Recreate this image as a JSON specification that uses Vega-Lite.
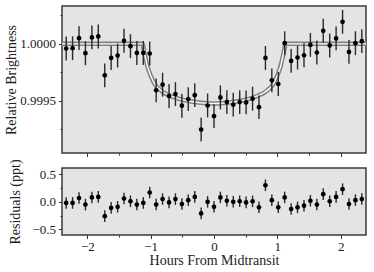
{
  "$schema": "https://vega.github.io/schema/vega-lite/v6.json",
  "padding": {"left": 3, "top": 5, "right": 6, "bottom": 5},
  "config": {
    "font": "Liberation Serif, serif",
    "view": {"fill": "#e4e4e4", "stroke": "#3a3a3a", "strokeWidth": 1.5},
    "axis": {"domain": false, "grid": false, "labelOverlap": false, "labelFont": "Liberation Serif, serif", "titleFont": "Liberation Serif, serif", "labelFontSize": 13, "titleFontSize": 14, "titleFontWeight": "normal", "labelColor": "#222", "titleColor": "#222", "tickColor": "#333", "tickWidth": 1}
  },
  "datasets": {
    "bins": [
      {"t": -2.334, "b": 0.999959, "r": -0.02, "e": 0.000105, "er": 0.105},
      {"t": -2.233, "b": 0.999962, "r": -0.02, "e": 0.000105, "er": 0.105},
      {"t": -2.131, "b": 1.000050, "r": 0.07, "e": 0.000105, "er": 0.105},
      {"t": -2.030, "b": 0.999918, "r": -0.05, "e": 0.000105, "er": 0.105},
      {"t": -1.928, "b": 1.000057, "r": 0.08, "e": 0.000105, "er": 0.105},
      {"t": -1.827, "b": 1.000065, "r": 0.09, "e": 0.000105, "er": 0.105},
      {"t": -1.725, "b": 0.999723, "r": -0.26, "e": 0.000105, "er": 0.105},
      {"t": -1.624, "b": 0.999876, "r": -0.11, "e": 0.000105, "er": 0.105},
      {"t": -1.522, "b": 0.999897, "r": -0.09, "e": 0.000105, "er": 0.105},
      {"t": -1.421, "b": 1.000027, "r": 0.06, "e": 0.000105, "er": 0.105},
      {"t": -1.319, "b": 0.999980, "r": 0.01, "e": 0.000105, "er": 0.105},
      {"t": -1.218, "b": 0.999920, "r": -0.05, "e": 0.000105, "er": 0.105},
      {"t": -1.116, "b": 0.999920, "r": -0.02, "e": 0.000105, "er": 0.105},
      {"t": -1.015, "b": 0.999915, "r": 0.17, "e": 0.000105, "er": 0.105},
      {"t": -0.913, "b": 0.999591, "r": -0.05, "e": 0.000105, "er": 0.105},
      {"t": -0.812, "b": 0.999641, "r": 0.05, "e": 0.000105, "er": 0.105},
      {"t": -0.710, "b": 0.999541, "r": -0.01, "e": 0.000105, "er": 0.105},
      {"t": -0.609, "b": 0.999558, "r": 0.05, "e": 0.000105, "er": 0.105},
      {"t": -0.507, "b": 0.999456, "r": -0.04, "e": 0.000105, "er": 0.105},
      {"t": -0.406, "b": 0.999514, "r": 0.03, "e": 0.000105, "er": 0.105},
      {"t": -0.304, "b": 0.999549, "r": 0.09, "e": 0.000105, "er": 0.105},
      {"t": -0.203, "b": 0.999246, "r": -0.21, "e": 0.000105, "er": 0.105},
      {"t": -0.101, "b": 0.999458, "r": 0.00, "e": 0.000105, "er": 0.105},
      {"t": 0.000, "b": 0.999364, "r": -0.09, "e": 0.000105, "er": 0.105},
      {"t": 0.101, "b": 0.999529, "r": 0.08, "e": 0.000105, "er": 0.105},
      {"t": 0.203, "b": 0.999488, "r": 0.02, "e": 0.000105, "er": 0.105},
      {"t": 0.304, "b": 0.999465, "r": 0.00, "e": 0.000105, "er": 0.105},
      {"t": 0.406, "b": 0.999488, "r": 0.01, "e": 0.000105, "er": 0.105},
      {"t": 0.507, "b": 0.999485, "r": -0.01, "e": 0.000105, "er": 0.105},
      {"t": 0.609, "b": 0.999518, "r": 0.01, "e": 0.000105, "er": 0.105},
      {"t": 0.710, "b": 0.999443, "r": -0.10, "e": 0.000105, "er": 0.105},
      {"t": 0.812, "b": 0.999876, "r": 0.30, "e": 0.000105, "er": 0.105},
      {"t": 0.913, "b": 0.999679, "r": 0.03, "e": 0.000105, "er": 0.105},
      {"t": 1.015, "b": 0.999647, "r": -0.10, "e": 0.000105, "er": 0.105},
      {"t": 1.116, "b": 1.000006, "r": 0.08, "e": 0.000105, "er": 0.105},
      {"t": 1.218, "b": 0.999850, "r": -0.13, "e": 0.000105, "er": 0.105},
      {"t": 1.319, "b": 0.999880, "r": -0.10, "e": 0.000105, "er": 0.105},
      {"t": 1.421, "b": 0.999900, "r": -0.07, "e": 0.000105, "er": 0.105},
      {"t": 1.522, "b": 0.999991, "r": 0.02, "e": 0.000105, "er": 0.105},
      {"t": 1.624, "b": 0.999924, "r": -0.05, "e": 0.000105, "er": 0.105},
      {"t": 1.725, "b": 1.000115, "r": 0.14, "e": 0.000105, "er": 0.105},
      {"t": 1.827, "b": 0.999986, "r": 0.01, "e": 0.000105, "er": 0.105},
      {"t": 1.928, "b": 1.000048, "r": 0.09, "e": 0.000105, "er": 0.105},
      {"t": 2.030, "b": 1.000194, "r": 0.23, "e": 0.000105, "er": 0.105},
      {"t": 2.131, "b": 0.999929, "r": -0.04, "e": 0.000105, "er": 0.105},
      {"t": 2.233, "b": 1.000006, "r": 0.03, "e": 0.000105, "er": 0.105},
      {"t": 2.334, "b": 1.000024, "r": 0.05, "e": 0.000105, "er": 0.105}
    ],
    "model": [
      {"t": -2.4, "b": 1.0},
      {"t": -1.13, "b": 1.0},
      {"t": -1.1, "b": 0.99992},
      {"t": -1.075, "b": 0.99986},
      {"t": -1.05, "b": 0.99980},
      {"t": -1.025, "b": 0.99976},
      {"t": -1.0, "b": 0.99972},
      {"t": -0.975, "b": 0.99969},
      {"t": -0.95, "b": 0.99966},
      {"t": -0.9, "b": 0.99962},
      {"t": -0.85, "b": 0.999595},
      {"t": -0.8, "b": 0.999574},
      {"t": -0.7, "b": 0.999546},
      {"t": -0.6, "b": 0.999525},
      {"t": -0.5, "b": 0.999509},
      {"t": -0.4, "b": 0.999497},
      {"t": -0.3, "b": 0.999488},
      {"t": -0.2, "b": 0.999481},
      {"t": -0.1, "b": 0.999477},
      {"t": 0.0, "b": 0.999475},
      {"t": 0.1, "b": 0.999477},
      {"t": 0.2, "b": 0.999481},
      {"t": 0.3, "b": 0.999488},
      {"t": 0.4, "b": 0.999497},
      {"t": 0.5, "b": 0.999509},
      {"t": 0.6, "b": 0.999525},
      {"t": 0.7, "b": 0.999546},
      {"t": 0.8, "b": 0.999574},
      {"t": 0.85, "b": 0.999595},
      {"t": 0.9, "b": 0.99962},
      {"t": 0.95, "b": 0.99966},
      {"t": 0.975, "b": 0.99969},
      {"t": 1.0, "b": 0.99972},
      {"t": 1.025, "b": 0.99976},
      {"t": 1.05, "b": 0.99980},
      {"t": 1.075, "b": 0.99986},
      {"t": 1.1, "b": 0.99992},
      {"t": 1.13, "b": 1.0},
      {"t": 2.4, "b": 1.0}
    ]
  },
  "vconcat": [
    {
      "width": 304,
      "height": 147,
      "encoding": {
        "x": {"field": "t", "type": "quantitative", "scale": {"domain": [-2.4, 2.4], "nice": false, "zero": false},
          "axis": {"values": [-2, -1.5, -1, -0.5, 0, 0.5, 1, 1.5, 2], "labels": false, "title": null, "tickSize": {"condition": {"test": "datum.value % 1 !== 0", "value": 2}, "value": 3.5}}},
        "y": {"field": "b", "type": "quantitative", "scale": {"domain": [0.99904, 1.000333], "nice": false, "zero": false},
          "axis": {"values": [0.99925, 0.9995, 0.99975, 1.0, 1.00025], "title": "Relative Brightness", "titleX": -44, "labelPadding": 3,
            "labelExpr": "(datum.value > 0.99949 && datum.value < 0.99951) || (datum.value > 0.99999 && datum.value < 1.00001) ? format(datum.value, '.4f') : ''",
            "tickSize": {"condition": {"test": "(datum.value > 0.99949 && datum.value < 0.99951) || (datum.value > 0.99999 && datum.value < 1.00001)", "value": 3.5}, "value": 2}}}
      },
      "layer": [
        {
          "data": {"name": "model"},
          "mark": {"type": "line", "color": "#808080", "strokeWidth": 4.5, "interpolate": "monotone"}
        },
        {
          "data": {"name": "model"},
          "mark": {"type": "line", "color": "#ffffff", "strokeWidth": 1.4, "interpolate": "monotone"}
        },
        {
          "data": {"name": "bins"},
          "mark": {"type": "errorbar", "color": "#2a2a2a", "thickness": 1.4},
          "encoding": {"yError": {"field": "e"}}
        },
        {
          "data": {"name": "bins"},
          "mark": {"type": "point", "filled": true, "color": "#000000", "opacity": 1, "size": 22}
        }
      ]
    },
    {
      "width": 304,
      "height": 67,
      "data": {"name": "bins"},
      "encoding": {
        "x": {"field": "t", "type": "quantitative", "scale": {"domain": [-2.4, 2.4], "nice": false, "zero": false},
          "axis": {"values": [-2, -1.5, -1, -0.5, 0, 0.5, 1, 1.5, 2], "title": "Hours From Midtransit", "labelPadding": 2, "titlePadding": 0,
            "labelExpr": "datum.value % 1 === 0 ? format(datum.value, 'd') : ''",
            "tickSize": {"condition": {"test": "datum.value % 1 !== 0", "value": 2}, "value": 3.5}}},
        "y": {"field": "r", "type": "quantitative", "scale": {"domain": [-0.603, 0.615], "nice": false, "zero": false},
          "axis": {"values": [-0.5, -0.25, 0, 0.25, 0.5], "title": "Residuals (ppt)", "titleX": -40, "labelPadding": 3,
            "labelExpr": "abs(datum.value) === 0.25 ? '' : format(datum.value, '.1f')",
            "tickSize": {"condition": {"test": "abs(datum.value) === 0.25", "value": 2}, "value": 3.5}}}
      },
      "layer": [
        {
          "mark": {"type": "errorbar", "color": "#2a2a2a", "thickness": 1.4},
          "encoding": {"yError": {"field": "er"}}
        },
        {
          "mark": {"type": "point", "filled": true, "color": "#000000", "opacity": 1, "size": 22}
        }
      ]
    }
  ],
  "spacing": 0
}
